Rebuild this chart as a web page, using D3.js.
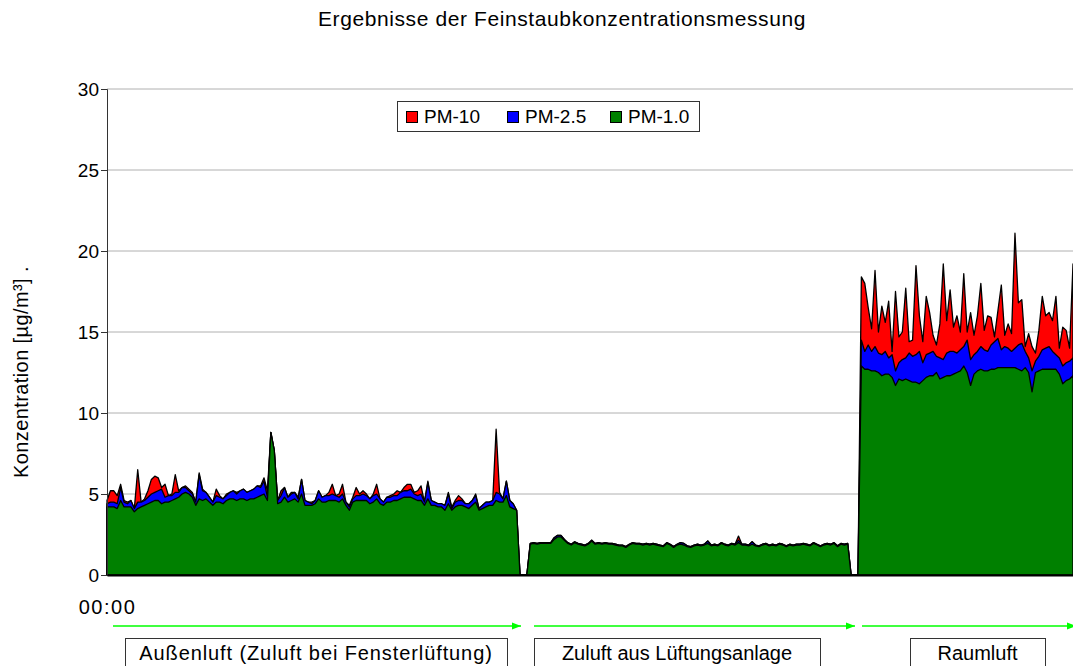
<!DOCTYPE html>
<html><head><meta charset="utf-8">
<script src="https://cdn.jsdelivr.net/npm/d3@7"></script>
<style>
html,body{margin:0;padding:0;background:#fff;}
text{font-family:"Liberation Sans",Arial,sans-serif;}
</style></head>
<body><svg id="chart" width="1073" height="666"></svg>
<script>
// ---------- data ----------
const title = "Ergebnisse der Feinstaubkonzentrationsmessung";
const yLabel = "Konzentration [µg/m³] .";
const seriesNames = ["PM-10", "PM-2.5", "PM-1.0"];
const yTicks = [0, 5, 10, 15, 20, 25, 30];
const xTickLabel = "00:00";
const segmentLabels = ["Außenluft (Zuluft bei Fensterlüftung)", "Zuluft aus Lüftungsanlage", "Raumluft"];

// Außenluft
const pm1Out = [4.2,4.2,4.2,4.1,4.6,4.2,4.2,4.2,3.9,4.1,
4.2,4.3,4.4,4.5,4.6,4.6,4.4,4.5,4.5,4.6,
4.7,4.8,5.0,5.1,5.0,4.8,4.3,4.7,4.6,4.7,
4.5,4.3,4.5,4.5,4.4,4.6,4.7,4.7,4.6,4.7,
4.7,4.6,4.7,4.7,4.8,4.9,5.0,4.6,8.8,7.7,
4.4,4.5,4.8,4.5,4.6,4.7,4.5,5.0,4.3,4.3,
4.3,4.4,4.7,4.5,4.5,4.6,4.6,4.6,4.5,4.7,
4.3,4.0,4.5,4.6,4.6,4.6,4.6,4.4,4.5,4.7,
4.4,4.3,4.5,4.5,4.6,4.6,4.7,4.8,4.8,4.8,
4.7,4.6,4.6,4.3,4.7,4.3,4.3,4.2,4.2,4.0,
4.4,4.0,4.2,4.3,4.3,4.2,4.1,4.3,4.5,4.0,
4.1,4.2,4.3,4.3,4.6,4.5,4.5,4.9,4.2,4.1,
4.0];
const pm25Out = [4.4,4.5,4.5,4.4,5.4,4.5,4.4,4.6,4.1,4.5,
4.5,4.6,4.8,5.0,5.1,5.2,5.3,4.8,4.9,4.9,
5.1,5.1,5.4,5.4,5.2,5.0,4.5,6.2,5.2,5.1,
4.8,4.5,4.9,4.8,4.7,4.9,5.1,5.2,5.0,5.2,
5.3,5.1,5.2,5.3,5.5,5.4,5.8,4.8,8.8,7.7,
4.6,4.9,5.4,4.8,5.0,5.1,4.7,5.9,4.6,4.5,
4.4,4.6,5.2,4.8,4.9,4.9,5.0,4.9,4.8,5.0,
4.5,4.2,4.7,4.9,4.9,5.0,4.9,4.7,4.9,5.0,
4.7,4.5,4.8,4.8,4.9,4.9,5.1,5.2,5.2,5.3,
5.0,4.9,5.0,4.5,5.7,4.6,4.5,4.4,4.4,4.3,
5.0,4.1,4.5,4.6,4.6,4.4,4.4,4.6,4.9,4.1,
4.3,4.5,4.5,4.6,5.1,5.0,4.7,5.8,4.6,4.4,
4.0];
const pm10Out = [4.6,5.2,5.2,4.9,5.6,4.6,4.5,4.6,4.1,6.5,
4.5,4.7,5.2,5.9,6.1,6.0,5.4,5.6,4.9,5.0,
6.2,5.2,5.4,5.5,5.3,5.1,4.5,6.3,5.3,5.1,
4.8,4.5,5.3,4.9,4.7,5.0,5.1,5.2,5.1,5.2,
5.3,5.1,5.2,5.3,5.5,5.5,6.0,5.2,8.8,7.7,
4.6,5.2,5.4,4.8,5.1,5.1,4.8,5.9,4.6,4.5,
4.5,4.6,5.2,4.8,4.9,5.1,5.6,4.9,5.0,5.6,
4.5,4.3,4.8,5.4,5.0,5.2,5.0,4.7,5.0,5.6,
4.7,4.5,4.8,4.9,5.0,5.2,5.1,5.4,5.6,5.6,
5.1,5.2,5.5,4.5,5.8,4.6,4.5,4.4,4.4,4.3,
5.1,4.2,4.6,4.9,4.7,4.4,4.4,4.6,5.0,4.1,
4.3,4.5,4.5,4.6,9.0,5.1,4.7,5.8,4.6,4.4,
4.0];

// pause between measurements
const gapValues = [0, 0, 0];

// Zuluft aus Lüftungsanlage
const pm1Sup = [1.9,1.95,1.9,1.95,1.95,1.95,1.95,2.2,2.35,2.35,
2.15,1.95,1.85,2.0,1.9,1.85,1.8,1.9,2.1,1.9,
1.95,1.9,1.95,1.9,1.9,1.85,1.8,1.8,1.7,1.85,
1.95,1.9,1.9,1.85,1.9,1.85,1.9,1.85,1.8,1.75,
1.95,1.85,1.7,1.85,1.9,1.85,1.75,1.7,1.8,1.85,
1.8,1.85,1.95,1.8,1.85,1.8,1.95,1.85,1.8,1.9,
1.85,2.0,1.85,1.85,1.8,1.9,1.8,1.75,1.85,1.9,
1.8,1.85,1.8,1.9,1.85,1.75,1.85,1.8,1.85,1.85,
1.9,1.85,1.8,1.95,1.85,1.75,1.85,1.9,1.85,1.95,
1.75,1.9,1.85,1.9];
const pm25Sup = [1.95,2.0,1.95,2.0,2.0,2.0,2.0,2.3,2.45,2.45,
2.2,2.0,1.9,2.05,1.95,1.9,1.85,1.95,2.15,1.95,
2.0,1.95,2.0,1.95,1.95,1.9,1.85,1.85,1.75,1.9,
2.0,1.95,1.95,1.9,1.95,1.9,1.95,1.9,1.85,1.8,
2.0,1.9,1.75,1.9,2.0,1.95,1.8,1.75,1.85,1.9,
1.85,1.9,2.1,1.85,1.9,1.85,2.0,1.9,1.85,1.95,
1.9,2.15,1.9,1.9,1.85,2.05,1.85,1.8,1.9,1.95,
1.85,1.9,1.85,1.95,1.9,1.8,1.9,1.85,1.9,1.9,
1.95,1.9,1.85,2.0,1.9,1.8,1.9,1.95,1.9,2.0,
1.8,1.95,1.9,1.95];
const pm10Sup = [1.95,2.0,1.95,2.0,2.0,2.0,2.0,2.3,2.45,2.45,
2.2,2.0,1.9,2.05,1.95,1.9,1.85,1.95,2.15,1.95,
2.0,1.95,2.0,1.95,1.95,1.9,1.85,1.85,1.75,1.9,
2.0,1.95,1.95,1.9,1.95,1.9,1.95,1.9,1.85,1.8,
2.0,1.9,1.75,1.9,2.0,1.95,1.8,1.75,1.85,1.9,
1.85,1.9,2.1,1.85,1.9,1.85,2.0,1.9,1.85,1.95,
1.9,2.4,1.9,1.9,1.85,2.05,1.85,1.8,1.9,1.95,
1.85,1.9,1.85,1.95,1.9,1.8,1.9,1.85,1.9,1.9,
1.95,1.9,1.85,2.0,1.9,1.8,1.9,1.95,1.9,2.0,
1.8,1.95,1.9,1.95];

// Raumluft
const pm1Room = [12.9,12.7,12.7,12.6,12.6,12.5,12.3,12.4,12.4,12.2,
11.7,12.1,12.0,12.1,12.0,11.9,11.9,11.8,12.0,12.2,
12.3,12.3,12.5,12.1,12.2,12.3,12.3,12.4,12.5,12.6,
12.9,12.5,11.7,12.4,12.6,12.7,12.6,12.6,12.7,12.7,
12.8,12.8,12.8,12.8,12.8,12.8,12.7,12.6,12.8,12.5,
11.3,12.5,12.6,12.7,12.7,12.7,12.7,12.7,12.4,11.8,
12.0,12.1,12.3];
const pm25Room = [14.5,13.8,14.2,13.8,14.1,13.7,13.6,13.8,13.4,13.6,
12.6,13.1,13.3,13.4,13.7,13.5,13.6,13.8,13.1,13.6,
13.7,13.8,13.5,13.4,13.3,13.7,13.8,13.8,13.7,13.9,
14.1,14.5,13.3,13.6,13.8,14.1,13.9,13.8,14.2,14.4,
14.6,13.9,14.1,14.0,13.8,14.0,14.2,14.3,13.8,13.4,
12.6,13.2,13.5,13.9,14.0,14.1,13.8,13.6,13.4,12.9,
13.1,13.2,13.4];
const pm10Room = [18.4,18.0,16.5,15.2,18.8,15.0,16.6,15.6,16.9,13.8,
17.5,14.7,15.0,17.7,14.4,14.5,19.1,16.0,14.4,17.2,
16.2,14.8,14.2,15.5,19.2,15.7,17.6,15.3,16.0,15.0,
18.6,15.0,16.2,14.8,16.0,18.0,15.1,16.0,15.9,14.7,
16.3,17.9,14.8,15.5,14.9,21.1,16.8,17.0,14.1,14.9,
14.1,13.7,15.1,17.2,16.0,16.2,15.7,17.2,14.0,15.3,
15.1,14.0,19.2];

const pm10 = [...pm10Out, ...gapValues, ...pm10Sup, ...gapValues, ...pm10Room];
const pm25 = [...pm25Out, ...gapValues, ...pm25Sup, ...gapValues, ...pm25Room];
const pm1  = [...pm1Out,  ...gapValues, ...pm1Sup,  ...gapValues, ...pm1Room];
const seriesColors = ["#ff0000", "#0000ff", "#008000"];

// ---------- layout ----------
const svg = d3.select("#chart");
const L = 107, R = 1073, T = 89, B = 575;
const N = pm10.length;
const x = d3.scaleLinear().domain([0, N - 1]).range([L, R]);
const y = d3.scaleLinear().domain([0, 30]).range([B, T]);
const FONT = 19;

// title
svg.append("text").attr("x", 562).attr("y", 26).attr("text-anchor", "middle")
  .attr("font-size", 21).attr("letter-spacing", 0.6).text(title);

// gridlines
svg.append("g").selectAll("line").data(yTicks.filter(t => t > 0)).join("line")
  .attr("x1", L).attr("x2", R).attr("y1", d => y(d)).attr("y2", d => y(d))
  .attr("stroke", "#b0b0b0").attr("stroke-width", 1);

// areas
const series = [pm10, pm25, pm1];
series.forEach((vals, k) => {
  const area = d3.area().x((d, i) => x(i)).y0(y(0)).y1(d => y(d));
  svg.append("path").datum(vals).attr("d", area)
    .attr("fill", seriesColors[k]).attr("stroke", "#000")
    .attr("stroke-width", 1.3).attr("stroke-linejoin", "round");
});

// y axis
const yAxis = svg.append("g").attr("transform", `translate(${L},0)`)
  .call(d3.axisLeft(y).tickValues(yTicks).tickSize(6).tickPadding(2));
yAxis.select(".domain").attr("stroke", "#333");
yAxis.selectAll(".tick line").attr("stroke", "#333");
yAxis.selectAll("text").attr("font-size", FONT).attr("fill", "#000")
  .attr("font-family", "Liberation Sans, Arial, sans-serif");

// x axis baseline + label
const xAxis = svg.append("g").attr("transform", `translate(0,${B})`)
  .call(d3.axisBottom(x).tickValues([0]).tickFormat(() => xTickLabel).tickSize(0).tickPadding(25));
xAxis.select(".domain").attr("stroke", "#000").attr("stroke-width", 2);
xAxis.selectAll("text").attr("font-size", 20).attr("letter-spacing", 1.5).attr("fill", "#000")
  .attr("font-family", "Liberation Sans, Arial, sans-serif");

// y label
svg.append("text").attr("transform", "translate(28,372) rotate(-90)")
  .attr("text-anchor", "middle").attr("font-size", 20).attr("letter-spacing", 0.4).text(yLabel);

// legend
const lg = svg.append("g");
lg.append("rect").attr("x", 397.5).attr("y", 101.5).attr("width", 302).attr("height", 30)
  .attr("fill", "#fff").attr("stroke", "#333");
const legX = [406, 507, 610];
seriesNames.forEach((n, k) => {
  lg.append("rect").attr("x", legX[k] + 0.5).attr("y", 111.5).attr("width", 11).attr("height", 11)
    .attr("fill", seriesColors[k]).attr("stroke", "#000");
  lg.append("text").attr("x", legX[k] + 18).attr("y", 123).attr("font-size", FONT).text(n);
});

// segment arrows & boxes
const defs = svg.append("defs");
defs.append("marker").attr("id", "arr").attr("viewBox", "0 0 10 10").attr("refX", 10).attr("refY", 5)
  .attr("markerWidth", 6).attr("markerHeight", 6).attr("orient", "auto")
  .append("path").attr("d", "M0,1 L10,5 L0,9 z").attr("fill", "#00ff00");
const arrows = [[113, 521], [534, 855], [862, 1076]];
arrows.forEach(a => {
  svg.append("line").attr("x1", a[0]).attr("x2", a[1]).attr("y1", 626).attr("y2", 626)
    .attr("stroke", "#00ff00").attr("stroke-width", 1.5).attr("marker-end", "url(#arr)");
});
const boxes = [[125, 507], [534, 820], [910, 1045]];
const boxSpacing = [0.9, 0, 0];
boxes.forEach((b, k) => {
  svg.append("rect").attr("x", b[0] + 0.5).attr("y", 638.5).attr("width", b[1] - b[0]).attr("height", 40)
    .attr("fill", "#fff").attr("stroke", "#333");
  svg.append("text").attr("x", (b[0] + b[1]) / 2).attr("y", 660).attr("text-anchor", "middle")
    .attr("font-size", 20).attr("letter-spacing", boxSpacing[k]).text(segmentLabels[k]);
});
</script></body></html>
